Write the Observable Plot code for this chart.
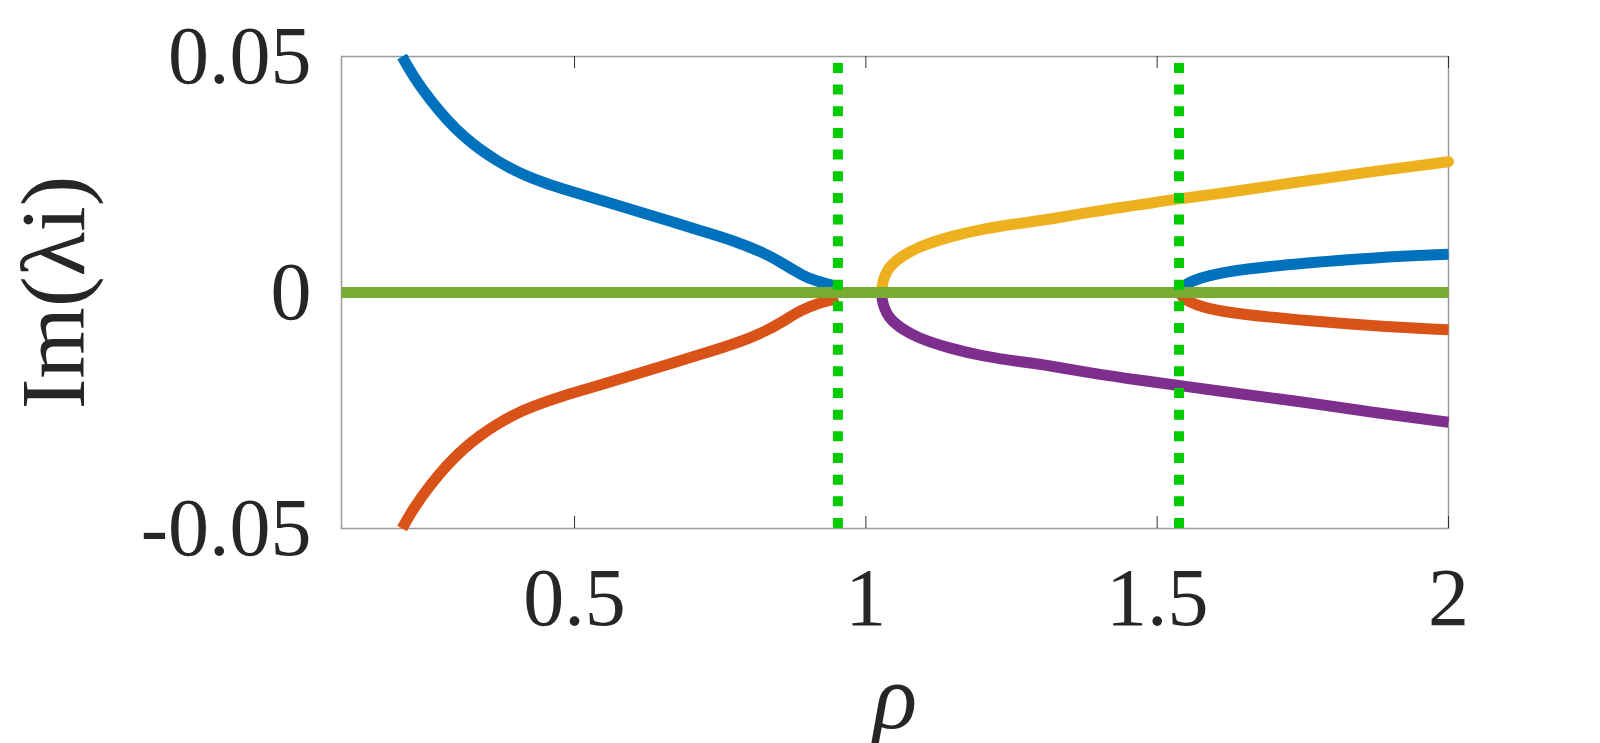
<!DOCTYPE html>
<html>
<head>
<meta charset="utf-8">
<script src="https://cdn.jsdelivr.net/npm/d3@7"></script>
<script src="https://cdn.jsdelivr.net/npm/@observablehq/plot@0.6"></script>
<style>
  html, body { margin: 0; padding: 0; background: #fff; }
  #chart svg { display: block; }
</style>
</head>
<body>
<div id="chart"></div>
<script>
// ---- data ----
const xTicks = [0.5, 1, 1.5, 2];
const yTicks = [-0.05, 0, 0.05];
const xLabel = "ρ";
const yLabel = "Im(λi)";

// eigenvalue branch 1 (blue, upper) and its conjugate (red, lower), rho < 0.95
const rhoA = [0.204, 0.2241, 0.2528, 0.2814, 0.3099, 0.3386, 0.3672, 0.3957, 0.4244, 0.4759, 0.5561, 0.6132, 0.6704, 0.7162, 0.7734, 0.8307, 0.8593, 0.8879, 0.9165, 0.945, 0.952];
const blueA = [0.05, 0.0456, 0.0407, 0.0365, 0.0330, 0.0302, 0.0279, 0.0259, 0.0243, 0.0220, 0.0192, 0.0170, 0.0149, 0.0131, 0.0110, 0.0081, 0.0060, 0.0038, 0.0023, 0.0015, 0.0012];
const redA  = [-0.05, -0.0456, -0.0407, -0.0365, -0.0330, -0.0302, -0.0279, -0.0259, -0.0243, -0.0220, -0.0192, -0.0170, -0.0149, -0.0131, -0.0110, -0.0081, -0.0060, -0.0038, -0.0023, -0.0015, -0.0012];

// branch 2 (yellow upper, purple lower), rho > 1.026
const rhoB = [1.0264, 1.029, 1.0367, 1.0452, 1.0595, 1.0881, 1.1453, 1.2025, 1.2598, 1.317, 1.386, 1.4715, 1.5375, 1.6, 1.7576, 1.88, 2.0];
const yellowB = [0, 0.0025, 0.0047, 0.0060, 0.0075, 0.0096, 0.0119, 0.0135, 0.0146, 0.0155, 0.0171, 0.0186, 0.0199, 0.0208, 0.0237, 0.0258, 0.0277];
const purpleB = [0, -0.0025, -0.0047, -0.0060, -0.0075, -0.0096, -0.0119, -0.0135, -0.0146, -0.0155, -0.0171, -0.0186, -0.0197, -0.0208, -0.0233, -0.0256, -0.0275];

// branch 3 (blue upper, red lower), rho > 1.5375
const rhoC = [1.5375, 1.546, 1.586, 1.643, 1.7576, 1.872, 2.0];
const blueC = [0, 0.0018, 0.0036, 0.0049, 0.0063, 0.0074, 0.0081];
const redC  = [0, -0.0016, -0.0035, -0.0046, -0.0060, -0.0071, -0.0079];

// real eigenvalue (green, zero imaginary part)
const rhoZero = [0.1, 2];
const zeroVals = [0, 0];

// transition markers (dotted vertical lines)
const rhoMarks = [0.952, 1.5375];

const xDomain = [0.1, 2];
const yDomain = [-0.05, 0.05];

// ---- colours ----
const cBlue = "#0072BD", cRed = "#D95319", cYellow = "#EDB120", cPurple = "#7E2F8E", cGreen = "#77AC30", cDot = "#00CC00";

const toRows = (xs, ys) => xs.map((x, i) => ({x, y: ys[i]}));

const W = 1600, H = 743;
const mL = 341, mR = 152, mT = 56, mB = 215;
const plotH = H - mT - mB;
const tickLen = 12;
const lw = 11;
const font = "'Liberation Serif', 'Times New Roman', Times, serif";
const lineOpts = (color, cap = "butt") => ({x: "x", y: "y", stroke: color, strokeWidth: lw, curve: "basis", strokeLinecap: cap});

const chart = Plot.plot({
  width: W,
  height: H,
  marginLeft: mL,
  marginRight: mR,
  marginTop: mT,
  marginBottom: mB,
  x: {domain: xDomain},
  y: {domain: yDomain},
  style: {fontFamily: font, background: "#fff", color: "#262626"},
  marks: [
    Plot.frame({stroke: "#9a9a9a", strokeWidth: 1.5}),
    Plot.ruleX(xTicks, {x: d => d, insetTop: plotH - tickLen, stroke: "#333", strokeWidth: 1}),
    Plot.ruleX(xTicks, {x: d => d, insetBottom: plotH - tickLen, stroke: "#333", strokeWidth: 1}),
    Plot.axisX(xTicks, {tickSize: 0, tickPadding: 38, fontSize: 82, tickFormat: d => String(d), label: null}),
    Plot.axisY(yTicks, {tickSize: 0, tickPadding: 30, fontSize: 82, tickFormat: d => String(d), label: null}),
    Plot.line(toRows(rhoA, blueA), lineOpts(cBlue)),
    Plot.line(toRows(rhoA, redA), lineOpts(cRed)),
    Plot.line(toRows(rhoB, yellowB), lineOpts(cYellow, "round")),
    Plot.line(toRows(rhoB, purpleB), lineOpts(cPurple)),
    Plot.line(toRows(rhoC, blueC), lineOpts(cBlue)),
    Plot.line(toRows(rhoC, redC), lineOpts(cRed)),
    Plot.line(toRows(rhoZero, zeroVals), {x: "x", y: "y", stroke: cGreen, strokeWidth: lw, strokeLinecap: "butt"}),
    Plot.ruleX(rhoMarks, {x: d => d, y1: yDomain[0], y2: yDomain[1], stroke: cDot, strokeWidth: 10, strokeDasharray: "10 11.67"}),
    Plot.text([yLabel], {frameAnchor: "left", dx: -287, rotate: -90, textAnchor: "middle", lineAnchor: "middle", fontSize: 92, ariaLabel: "ylabel"}),
    Plot.text([xLabel], {frameAnchor: "bottom", dy: 199, lineAnchor: "bottom", fontSize: 92, fontStyle: "italic"})
  ]
});

// subscript "i" in the y label
const yl = chart.querySelector('g[aria-label="ylabel"] text');
if (yl) {
  yl.textContent = "";
  const ns = "http://www.w3.org/2000/svg";
  const t1 = document.createElementNS(ns, "tspan"); t1.textContent = "Im(λ";
  const t2 = document.createElementNS(ns, "tspan"); t2.textContent = "i";
  t2.style.fontSize = "62px"; t2.setAttribute("dy", "20");
  const t3 = document.createElementNS(ns, "tspan"); t3.textContent = ")"; t3.setAttribute("dy", "-20");
  yl.append(t1, t2, t3);
}

document.getElementById("chart").append(chart);
</script>
</body>
</html>
